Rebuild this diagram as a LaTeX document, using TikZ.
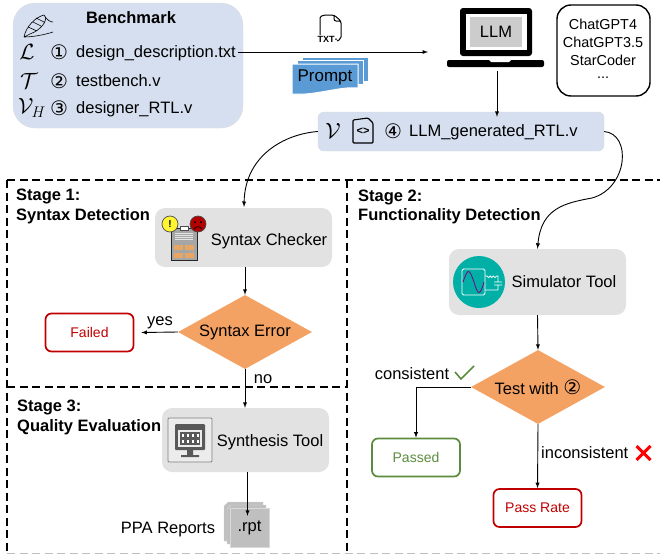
\documentclass[tikz,border=0pt]{standalone}
\usepackage{fontspec}
\usepackage{amsmath}
\usepackage{fix-cm}
\setmainfont{Liberation Sans}
\newfontfamily\circfont{DejaVu Sans}
\usetikzlibrary{shapes.geometric}

\definecolor{benchblue}{HTML}{D6DFEF}
\definecolor{toolgray}{HTML}{E2E2E2}
\definecolor{decorange}{HTML}{F4A264}
\definecolor{failred}{HTML}{C00000}
\definecolor{passgreen}{HTML}{5B8C3E}
\definecolor{promptblue}{HTML}{5B9BD5}
\definecolor{simteal}{HTML}{00B0A6}
\newcommand{\mainsize}{\fontsize{16.5}{18}\selectfont}
\newcommand{\circsize}{\circfont\fontsize{20}{20}\selectfont}

\tikzset{
  txt/.style={font=\mainsize, inner sep=0pt},
  symtxt/.style={font=\fontsize{22}{24}\selectfont, inner sep=0pt},
  circtxt/.style={font=\circsize, inner sep=0pt},
  stagetxt/.style={font=\mainsize\bfseries, inner sep=0pt, anchor=west, yshift=-1.5pt},
  toolbox/.style={fill=toolgray, rounded corners=10pt, minimum width=#1, inner sep=0pt},
  decision/.style={diamond, aspect=1.81, fill=decorange, minimum width=134pt, minimum height=74pt, inner sep=0pt, font=\mainsize},
  result/.style={draw=#1, text=#1, line width=1.7pt, rounded corners=6pt, minimum width=88pt, minimum height=38pt, inner sep=0pt, font=\fontsize{14}{16}\selectfont},
  flow/.style={-latex, line width=0.9pt},
  stageline/.style={line width=1.5pt, dash pattern=on 8pt off 4.5pt},
}

\begin{document}
\begin{tikzpicture}[x=1pt, y=-1pt]
  \useasboundingbox (0,0) rectangle (660,554);

  % stage frames
  \draw[stageline] (7,180) -- (660,180);
  \draw[stageline] (7,180) -- (7,552);
  \draw[stageline] (347,180) -- (347,552);
  \draw[stageline] (7,387) -- (347,387);
  \draw[gray!50, line width=1pt, dash pattern=on 8pt off 4.5pt] (7,553) -- (660,553);

  \foreach \x/\y/\nm/\name in {16/195/stA/Stage 1:, 16/215/stB/Syntax Detection, 358/196/stC/Stage 2:, 358/215/stD/Functionality Detection, 17/406/stE/Stage 3:, 17/426/stF/Quality Evaluation} {
    \node[stagetxt] (\nm) at (\x,\y) {\name};
  };

  % benchmark
  \node[fill=benchblue, draw=gray!25, rounded corners=22pt, minimum width=230pt, minimum height=125pt] (bench) at (128,65.5) {};
  \node[font=\mainsize\bfseries, inner sep=0pt] (benchtitle) at (131,18) {Benchmark};
  \foreach \y/\x/\nm/\sym/\num/\name in {52/27/a/\mathcal{L}/①/design\_description.txt, 81/29/b/\mathcal{T}/②/testbench.v, 108/32/c/\mathcal{V}_H/③/designer\_RTL.v} {
    \node[symtxt] (sym\nm) at (\x,\y) {$\sym$};
    \node[circtxt] (num\nm) at (59,\y) {\num};
    \node[txt, anchor=base west] (file\nm) at (76,\y+5.5) {\name};
  };
  \draw[line width=0.6pt] (24,37) .. controls (26,26) and (36,17) .. (44,15) .. controls (49,20) and (41,30) .. (30,34) -- (24,37)
    (28,27) -- (37,31) (33,22) -- (41,26) (36,18) -- (44,22)
    (44,15) .. controls (47,20) and (50,22) .. (53,22)
    (24,37) .. controls (32,37) and (44,35) .. (53,32);

  % prompt and llm
  \coordinate (llmin) at (428,52);
  \draw[flow] (filea.east |- llmin) ++(2,0) -- (llmin);
  \draw[rounded corners=2pt, line width=1pt] (337,39) -- (320,39) -- (320,20) .. controls (320,17) .. (323,15) -- (334,15) -- (341,21) -- (341,39) -- (337,41) (334,15) -- (334,21) -- (341,21);
  \node[fill=white, font=\bfseries\fontsize{9}{9}\selectfont, inner sep=0.5pt] (txticon) at (326,39) {TXT};
  \foreach \dx/\dy in {10/-7, 5/-3.5} {
    \draw[white, fill=promptblue, line width=1pt] (292+\dx,64+\dy) rectangle (358+\dx,88+\dy);
  };
  \draw[white, fill=promptblue, line width=1pt] (292,64) -- (358,64) -- (358,88) .. controls (340,86) and (315,96) .. (292,94) -- cycle;
  \node[font=\fontsize{17}{18}\selectfont, inner sep=0pt] (prompt) at (325,77) {Prompt};

  \node[fill=black, rounded corners=3pt, minimum width=72pt, minimum height=48pt, inner sep=0pt] (screen) at (496,32) {};
  \node[fill=white, minimum width=61pt, minimum height=36pt, inner sep=0pt] (screenin) at (496.5,32) {};
  \node[fill=gray!40, minimum width=52pt, minimum height=30pt, inner sep=0pt, txt] (llm) at (496,32) {LLM};
  \fill[black, rounded corners=2pt] (447,60) -- (544,60) -- (544,67) -- (447,67) -- cycle;
  \coordinate (laptop) at (497,71);
  \fill[white] (489,60) -- (511,60) -- (509,62) -- (491,62) -- cycle;

  \node[draw=black, line width=1.4pt, rounded corners=14pt, minimum width=93pt, minimum height=91pt, inner sep=0pt] (models) at (603.5,50.5) {};
  \foreach \y/\nm/\name in {24/ma/ChatGPT4, 42/mb/ChatGPT3.5, 60/mc/StarCoder} {
    \node[font=\fontsize{14.4}{16}\selectfont, inner sep=0pt] (\nm) at (603,\y) {\name};
  };
  \node[font=\fontsize{14.4}{16}\selectfont, inner sep=0pt] (md) at (603,78) {...};

  % generated code
  \node[fill=benchblue, draw=gray!30, rounded corners=6pt, minimum width=286pt, minimum height=39pt] (rtl) at (461,131.5) {};
  \node[symtxt] (symv) at (333,131) {$\mathcal{V}$};
  \draw[line width=1.1pt, rounded corners=1pt] (353,120) -- (368,118) -- (373,123) -- (373,143) -- (353,143) -- cycle;
  \node[font=\bfseries\fontsize{11}{11}\selectfont, inner sep=0pt] (codeicon) at (363,131) {<>};
  \node[circtxt] (numd) at (393,131) {④};
  \node[txt, anchor=base west] (filed) at (409,136.5) {LLM\_generated\_RTL.v};

  \draw[flow] (laptop) -- ([yshift=-5pt]rtl.north -| laptop);
  \draw[flow] (rtl.west) .. controls (285,134) and (245,155) .. (244,207);

  % stage 1
  \node[toolbox=177pt, minimum height=59pt] (checker) at (243.5,237.5) {};
  \node[txt] (checkertxt) at (269,241) {Syntax Checker};
  \draw[gray!30!black, fill=gray!70, line width=0.8pt] (171,228) rectangle (197,260);
  \foreach \y in {233,235,237,239} {
    \draw[gray!20, line width=0.5pt] (175,\y) -- (193,\y);
  };
  \foreach \x/\y in {174/245, 185/245, 174/253, 185/253} {
    \fill[brown!50!orange!70] (\x,\y) rectangle ++(9,5);
  };
  \draw[black!70, fill=white, line width=0.6pt] (180,226) rectangle (188,230);
  \draw[black!70, fill=yellow!80!white, line width=0.7pt] (170,224) circle (8);
  \node[font=\bfseries\fontsize{10}{11}\selectfont, inner sep=0pt] (warnicon) at (170,224) {!};
  \draw[black!70, fill=red!70!black, line width=0.7pt] (198,224) circle (8);
  \fill[black] (195,222) circle (1) (201,222) circle (1);
  \draw[black, line width=0.7pt] (194,229) .. controls (196,226) and (200,226) .. (202,229);

  \node[decision] (syntaxerr) at (245,332) {\raisebox{-2pt}{Syntax Error}};
  \node[result=failred] (failed) at (89.5,332.5) {Failed};
  \node[txt] (yes) at (160,323) {yes};
  \node[txt] (no) at (263,379) {no};
  \draw[flow] (checker.south -| syntaxerr) -- (syntaxerr.north);
  \draw[flow] (syntaxerr.west) -- ([xshift=7pt]failed.east);

  % stage 3
  \node[toolbox=167pt, minimum height=64pt] (synth) at (245.5,440) {};
  \node[txt] (synthtxt) at (270,442.5) {Synthesis Tool};
  \draw[gray, fill=gray!15, line width=0.8pt, rounded corners=1pt] (168,418) rectangle (212,462);
  \fill[gray!70!black, rounded corners=1pt] (175,424) rectangle (205,450);
  \fill[gray!70!black] (187,450) rectangle (193,455) (181,455) rectangle (199,457);
  \fill[gray!15] (178,430) rectangle (202,447);
  \fill[gray!70!black] (180,432) rectangle (200,445);
  \foreach \x in {182,187,192,197} {
    \foreach \y in {434,440} {
      \fill[white] (\x,\y) rectangle ++(1.6,3);
    };
  };
  \draw[flow] (syntaxerr.south) -- (synth.north -| syntaxerr);
  \foreach \x/\y in {224/502, 227/505} {
    \draw[gray!30, fill=gray!50] (\x+4,\y) -- (\x+39,\y) -- (\x+39,\y+39) -- (\x,\y+39) -- (\x,\y+4) -- cycle;
  };
  \node[draw=gray!30, fill=gray!50, minimum width=39pt, minimum height=39pt, inner sep=0pt, txt] (rpt) at (249.5,527.5) {\raisebox{-2pt}{.rpt}};
  \node[txt] (ppa) at (168,529.5) {PPA Reports};
  \draw[flow] (synth.south -| rpt) ++(-2,0) -- ([xshift=-2pt, yshift=-8pt]rpt.north);

  % stage 2
  \node[toolbox=177pt, minimum height=66pt] (sim) at (537.5,282) {};
  \node[txt] (simtxt) at (564,282) {Simulator Tool};
  \fill[simteal] (479,282) circle (26);
  \draw[white, line width=0.8pt, rounded corners=1.5pt] (462,269) rectangle (485,295);
  \draw[violet, line width=0.8pt] (463,282) .. controls (468,268) and (469,268) .. (474,282) .. controls (478,296) and (480,296) .. (484,282);
  \draw[white, line width=0.8pt] (485,276) -- (487,276) arc[start angle=180, end angle=0, radius=1.6] arc[start angle=180, end angle=0, radius=1.6] arc[start angle=180, end angle=0, radius=1.6] -- (498,276) -- (498,282) (494,282) -- (502,282) (494,285) -- (502,285) (498,285) -- (498,290) -- (485,290);
  \draw[flow] (rtl.east) .. controls (632,134) and (628,188) .. (592,198) .. controls (565,203) and (541,208) .. (sim.north);

  \node[decision] (testwith) at (538,387) {Test with {\circsize ②}};
  \node[result=passgreen] (passed) at (416,457.5) {Passed};
  \node[result=failred] (passrate) at (537.5,508) {Pass Rate};
  \node[txt] (cons) at (412,373.5) {consistent};
  \node[txt, anchor=west] (incons) at (541,453) {inconsistent};
  \draw[flow] (sim.south) -- (testwith.north);
  \draw[flow] (testwith.west) -| (passed.north);
  \draw[flow] (testwith.south) -- (passrate.north);
  \draw[passgreen, line width=1.6pt] (455,372) -- (461,379) -- (474,366);
  \draw[red, line width=3pt] (636.5,446) -- (650.5,460) (650.5,446) -- (636.5,460);
\end{tikzpicture}
\end{document}
